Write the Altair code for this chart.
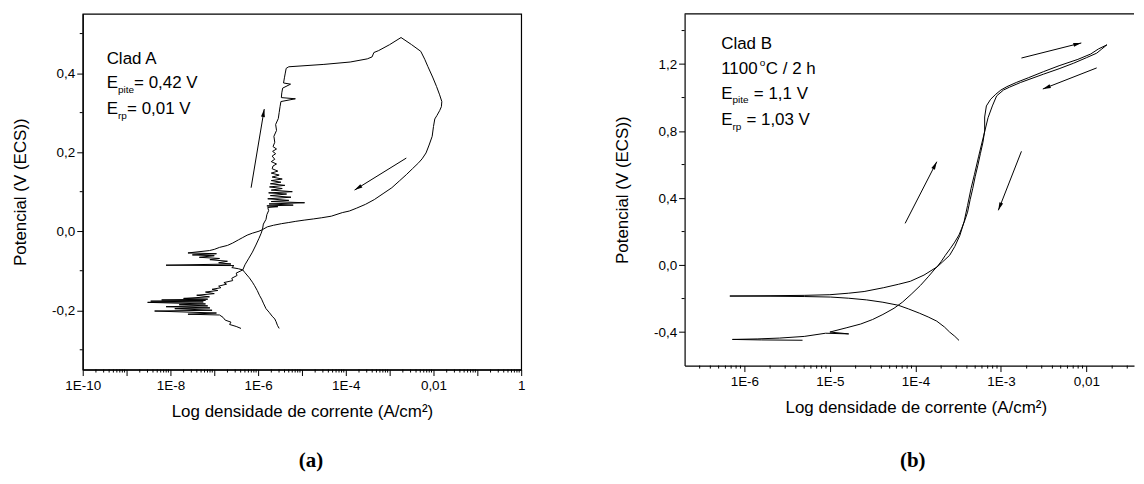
import math
import altair as alt
import pandas as pd

FONT = "Liberation Sans"
SERIF = "Liberation Serif"

# ---------------- Clad A (panel a): (log10 i, E) ----------------
A_FWD = [(-6.39, -0.246), (-6.50, -0.241), (-6.65, -0.236), (-6.62, -0.230), (-6.75, -0.225),
         (-6.80, -0.218), (-6.88, -0.212), (-7.60, -0.210), (-6.95, -0.207), (-8.36, -0.202),
         (-7.05, -0.200), (-7.90, -0.196), (-7.10, -0.194), (-8.10, -0.191), (-7.15, -0.189),
         (-7.80, -0.186), (-7.20, -0.184), (-8.52, -0.180), (-7.25, -0.179), (-8.45, -0.177),
         (-7.20, -0.175), (-8.20, -0.174), (-7.15, -0.172), (-7.70, -0.170), (-7.11, -0.166),
         (-7.40, -0.162), (-7.00, -0.158), (-7.20, -0.154), (-6.92, -0.150), (-7.05, -0.147),
         (-6.85, -0.143), (-6.90, -0.139), (-6.72, -0.134), (-6.78, -0.130), (-6.58, -0.125),
         (-6.60, -0.119), (-6.48, -0.112), (-6.50, -0.106), (-6.35, -0.098), (-6.30, -0.085),
         (-6.22, -0.070), (-6.13, -0.053), (-6.05, -0.035), (-5.98, -0.018), (-5.93, -0.005),
         (-5.90, 0.005), (-5.88, 0.018), (-5.82, 0.030), (-5.80, 0.042), (-5.76, 0.052),
         (-5.78, 0.060), (-5.55, 0.062), (-5.80, 0.064), (-5.20, 0.066), (-5.75, 0.069),
         (-4.94, 0.072), (-5.70, 0.075), (-5.30, 0.078), (-5.78, 0.082), (-5.25, 0.086),
         (-5.72, 0.090), (-5.35, 0.094), (-5.76, 0.097), (-5.22, 0.100), (-5.70, 0.104),
         (-5.45, 0.108), (-5.74, 0.112), (-5.39, 0.116), (-5.72, 0.120), (-5.48, 0.124),
         (-5.70, 0.128), (-5.45, 0.132), (-5.68, 0.137), (-5.52, 0.142), (-5.70, 0.147),
         (-5.55, 0.152), (-5.68, 0.158), (-5.66, 0.165), (-5.58, 0.170), (-5.70, 0.176),
         (-5.62, 0.182), (-5.68, 0.190), (-5.60, 0.196), (-5.67, 0.202), (-5.58, 0.208),
         (-5.66, 0.214), (-5.62, 0.225), (-5.64, 0.240), (-5.58, 0.255), (-5.60, 0.270),
         (-5.54, 0.285), (-5.52, 0.300), (-5.50, 0.315), (-5.48, 0.328), (-5.15, 0.335),
         (-5.47, 0.338), (-5.46, 0.350), (-5.44, 0.362), (-5.26, 0.372), (-5.42, 0.375),
         (-5.40, 0.388), (-5.38, 0.400), (-5.36, 0.412), (-5.30, 0.416), (-4.50, 0.422),
         (-3.90, 0.428), (-3.51, 0.436), (-3.40, 0.441), (-3.36, 0.452), (-3.25, 0.457),
         (-3.00, 0.472), (-2.74, 0.490)]

A_REV = [(-2.74, 0.490), (-2.50, 0.472), (-2.29, 0.455), (-2.20, 0.435), (-2.13, 0.417),
         (-2.02, 0.390), (-1.93, 0.366), (-1.86, 0.345), (-1.81, 0.328), (-1.82, 0.315),
         (-1.86, 0.305), (-1.92, 0.293), (-1.97, 0.284), (-2.00, 0.265), (-2.03, 0.240),
         (-2.10, 0.218), (-2.17, 0.198), (-2.26, 0.183), (-2.34, 0.173), (-2.48, 0.158),
         (-2.62, 0.143), (-2.78, 0.127), (-2.95, 0.110), (-3.15, 0.095), (-3.35, 0.080),
         (-3.55, 0.068), (-3.76, 0.058), (-3.92, 0.051), (-4.08, 0.047), (-4.33, 0.038),
         (-4.55, 0.034), (-4.74, 0.031), (-4.95, 0.028), (-5.14, 0.025), (-5.30, 0.022),
         (-5.47, 0.019), (-5.65, 0.015), (-5.79, 0.011), (-5.90, 0.004), (-5.98, 0.000),
         (-6.13, -0.005), (-6.25, -0.010), (-6.35, -0.016), (-6.45, -0.022), (-6.58, -0.030),
         (-6.70, -0.036), (-6.88, -0.041), (-7.00, -0.046), (-7.11, -0.049), (-7.60, -0.055),
         (-6.95, -0.057), (-7.50, -0.060), (-7.00, -0.062), (-7.34, -0.066), (-6.88, -0.069),
         (-7.10, -0.072), (-6.70, -0.076), (-6.90, -0.080), (-6.62, -0.083), (-8.10, -0.086),
         (-6.55, -0.087), (-6.60, -0.092), (-6.45, -0.095), (-6.35, -0.098), (-6.30, -0.105),
         (-6.20, -0.118), (-6.13, -0.129), (-6.08, -0.138), (-6.02, -0.150), (-5.97, -0.162),
         (-5.92, -0.172), (-5.88, -0.182), (-5.82, -0.196), (-5.75, -0.205), (-5.68, -0.215),
         (-5.62, -0.222), (-5.59, -0.229), (-5.56, -0.238), (-5.52, -0.246)]

# arrows: (start log i, start E, tip log i, tip E)
A_ARROWS = [(-6.16, 0.110, -5.86, 0.309), (-2.62, 0.185, -3.80, 0.104)]

# ---------------- Clad B (panel b) ----------------
B_FWD = [(-3.49, -0.450), (-3.54, -0.425), (-3.60, -0.400), (-3.66, -0.370), (-3.75, -0.335),
         (-3.85, -0.310), (-3.95, -0.288), (-4.08, -0.262), (-4.20, -0.240), (-4.38, -0.222),
         (-4.57, -0.208), (-4.78, -0.198), (-4.99, -0.191), (-5.30, -0.188), (-5.70, -0.186),
         (-6.17, -0.185), (-5.70, -0.183), (-5.30, -0.181), (-5.00, -0.177), (-4.78, -0.168),
         (-4.60, -0.158), (-4.37, -0.135), (-4.20, -0.115), (-4.06, -0.097), (-3.90, -0.060),
         (-3.75, -0.012), (-3.70, 0.020), (-3.65, 0.058), (-3.59, 0.100), (-3.54, 0.137),
         (-3.49, 0.180), (-3.46, 0.217), (-3.42, 0.270), (-3.39, 0.316), (-3.36, 0.390),
         (-3.33, 0.456), (-3.30, 0.530), (-3.27, 0.595), (-3.24, 0.665), (-3.21, 0.734),
         (-3.19, 0.800), (-3.19, 0.884), (-3.17, 0.950), (-3.12, 0.990), (-3.06, 1.020),
         (-3.00, 1.045), (-2.93, 1.065), (-2.82, 1.090), (-2.68, 1.118), (-2.50, 1.155),
         (-2.32, 1.190), (-2.10, 1.228), (-1.95, 1.260), (-1.86, 1.290), (-1.76, 1.315)]

B_REV = [(-1.76, 1.315), (-1.82, 1.290), (-1.88, 1.265), (-2.00, 1.238), (-2.15, 1.205),
         (-2.32, 1.172), (-2.50, 1.140), (-2.77, 1.090), (-2.90, 1.062), (-2.97, 1.045),
         (-3.05, 1.010), (-3.10, 0.950), (-3.15, 0.880), (-3.20, 0.776), (-3.26, 0.650),
         (-3.31, 0.540), (-3.35, 0.456), (-3.39, 0.356), (-3.43, 0.260), (-3.48, 0.177),
         (-3.54, 0.110), (-3.60, 0.058), (-3.68, 0.020), (-3.77, -0.022), (-3.85, -0.070),
         (-3.94, -0.121), (-4.05, -0.175), (-4.15, -0.221), (-4.25, -0.258), (-4.38, -0.295),
         (-4.50, -0.325), (-4.64, -0.352), (-4.81, -0.375), (-5.00, -0.400), (-4.78, -0.411),
         (-5.05, -0.407), (-5.30, -0.426), (-5.59, -0.436), (-5.85, -0.441), (-6.14, -0.444),
         (-5.80, -0.447), (-5.32, -0.449)]

B_ARROWS = [(-4.12, 0.249, -3.75, 0.617), (-2.76, 1.236, -2.06, 1.326),
            (-1.88, 1.177, -2.51, 1.051), (-2.76, 0.679, -3.03, 0.327)]

# ---------------- ticks and texts ----------------
A_X_DECADES = list(range(-10, 1))
A_X_LABEL_KEYS = [-10, -8, -6, -4, -2, 0]
A_X_LABELS = ["1E-10", "1E-8", "1E-6", "1E-4", "0,01", "1"]
A_Y_MAJOR = [-0.2, 0.0, 0.2, 0.4]
A_Y_LABELS = ["-0,2", "0,0", "0,2", "0,4"]
A_Y_MINOR = [-0.3, -0.1, 0.1, 0.3, 0.5]

B_X_DECADES = [-6, -5, -4, -3, -2]
B_X_LABELS = ["1E-6", "1E-5", "1E-4", "1E-3", "0,01"]
B_Y_MAJOR = [-0.4, 0.0, 0.4, 0.8, 1.2]
B_Y_LABELS = ["-0,4", "0,0", "0,4", "0,8", "1,2"]
B_Y_MINOR = [-0.2, 0.2, 0.6, 1.0, 1.4]

X_TITLE = "Log densidade de corrente (A/cm²)"
Y_TITLE = "Potencial (V (ECS))"

# geometry
A_W, A_H = 440, 357
A_XDOM, A_YDOM = [1e-10, 1.0], [-0.35, 0.55]
B_W, B_H = 451, 353
B_XDOM, B_YDOM = [2e-7, 0.036], [-0.6, 1.5]

HEAD = "M0,0L-0.5,2L0.5,2Z"


def lookup_expr(keys, labels, key_expr, tol):
    expr = "''"
    for k, lab in reversed(list(zip(keys, labels))):
        expr = f"abs({key_expr} - ({k})) < {tol} ? '{lab}' : ({expr})"
    return expr


def curve_df(series):
    rows = []
    for name, pts in series.items():
        for k, (lg, e) in enumerate(pts):
            rows.append({"scan": name, "k": k, "i": 10.0 ** lg, "E": e})
    return pd.DataFrame(rows)


def arrow_df(arrows, xdom, ydom, W, H):
    ppd = W / (math.log10(xdom[1]) - math.log10(xdom[0]))
    ppv = H / (ydom[1] - ydom[0])
    rows = []
    for l1, e1, l2, e2 in arrows:
        ang = math.degrees(math.atan2((l2 - l1) * ppd, (e2 - e1) * ppv)) % 360
        rows.append({"i": 10.0 ** l1, "E": e1, "i2": 10.0 ** l2, "E2": e2, "ang": ang})
    return pd.DataFrame(rows)


def minor_x(decades_lo, decades_hi, xdom):
    vals = []
    for d in range(decades_lo, decades_hi + 1):
        for m in range(2, 10):
            v = m * 10.0 ** d
            if xdom[0] * 1.001 < v < xdom[1] * 0.999:
                vals.append(v)
    return vals


def txt(s, x, y, size=17, font=FONT, weight="normal", align="left"):
    return alt.Chart(pd.DataFrame({"t": [s]})).mark_text(
        align=align, baseline="middle", font=font, fontSize=size,
        fontWeight=weight, color="black"
    ).encode(text="t:N", x=alt.value(x), y=alt.value(y))


def panel(fwd, rev, arrows, xdom, ydom, W, H, x_dec, x_keys, x_labels,
          y_major, y_labels, y_minor, texts, view, title_x=None):
    xscale = alt.Scale(type="log", domain=xdom, nice=False)
    yscale = alt.Scale(domain=ydom, nice=False, zero=False)
    xaxis_kw = dict(
        values=[10.0 ** k for k in x_dec],
        labelExpr=lookup_expr(x_keys, x_labels, "log(datum.value)/LN10", 0.01),
        tickSize=6, labelPadding=3, labelFlush=False, labelOverlap=False,
        grid=False, title=X_TITLE, titlePadding=12,
    )
    if title_x is not None:
        xaxis_kw["titleX"] = title_x
    xaxis = alt.Axis(**xaxis_kw)
    yaxis = alt.Axis(
        values=y_major,
        labelExpr=lookup_expr(y_major, y_labels, "datum.value", 1e-6),
        tickSize=6, labelPadding=2, labelFlush=False, labelOverlap=False,
        grid=False, title=Y_TITLE, titlePadding=22,
    )

    def X(f):
        return alt.X(f"{f}:Q", scale=xscale, axis=xaxis)

    def Y(f):
        return alt.Y(f"{f}:Q", scale=yscale, axis=yaxis)

    curves = alt.Chart(curve_df({"fwd": fwd, "rev": rev})).mark_line(
        color="black", strokeWidth=1
    ).encode(x=X("i"), y=Y("E"), detail="scan:N", order="k:Q")

    adf = arrow_df(arrows, xdom, ydom, W, H)
    shafts = alt.Chart(adf).mark_rule(color="black", strokeWidth=1).encode(
        x=X("i"), y=Y("E"), x2="i2:Q", y2="E2:Q")
    heads = alt.Chart(adf).mark_point(
        shape=HEAD, size=64, filled=True, color="black", opacity=1, strokeWidth=0
    ).encode(x=X("i2"), y=Y("E2"), angle=alt.Angle("ang:Q", scale=None))

    mx = alt.Chart(pd.DataFrame({"v": minor_x(x_dec[0] - 1, x_dec[-1], xdom)})).mark_rule(
        color="black", strokeWidth=1
    ).encode(x=X("v"), y=alt.value(H), y2=alt.value(H + 3))
    my = alt.Chart(pd.DataFrame({"v": y_minor})).mark_rule(
        color="black", strokeWidth=1
    ).encode(y=Y("v"), x=alt.value(0), x2=alt.value(-3))

    layers = [curves, shafts, heads, mx, my] + texts
    return alt.layer(*layers).properties(width=W, height=H, view=view)


# annotation texts (positions relative to each plot area)
A_TEXTS = [
    txt("Clad A", 24, 45),
    txt("E", 24, 69), txt("pite", 35.3, 76, size=10), txt("= 0,42 V", 51.5, 69),
    txt("E", 24, 96), txt("rp", 35.3, 103, size=10), txt("= 0,01 V", 44.5, 96),
    txt("(a)", 229, 449, size=21, font=SERIF, weight="bold", align="center"),
]
B_TEXTS = [
    txt("Clad B", 36.7, 30),
    txt("1100", 36.7, 55), txt("o", 75.5, 49, size=10), txt("C / 2 h", 81.5, 55),
    txt("E", 36.7, 80), txt("pite", 48, 87, size=10), txt("= 1,1 V", 69.5, 80),
    txt("E", 36.7, 107), txt("rp", 48, 114, size=10), txt("= 1,03 V", 62, 107),
    txt("(b)", 229, 449, size=21, font=SERIF, weight="bold", align="center"),
    alt.Chart(pd.DataFrame({"a": [0]})).mark_rule(color="black", strokeWidth=1.2).encode(
        x=alt.value(0), x2=alt.value(B_W), y=alt.value(0)),
]

left = panel(A_FWD, A_REV, A_ARROWS, A_XDOM, A_YDOM, A_W, A_H, A_X_DECADES,
             A_X_LABEL_KEYS, A_X_LABELS, A_Y_MAJOR, A_Y_LABELS, A_Y_MINOR, A_TEXTS,
             alt.ViewBackground(stroke="black", strokeWidth=1.2, fill="white"))
right = panel(B_FWD, B_REV, B_ARROWS, B_XDOM, B_YDOM, B_W, B_H, B_X_DECADES,
              B_X_DECADES, B_X_LABELS, B_Y_MAJOR, B_Y_LABELS, B_Y_MINOR, B_TEXTS,
              alt.ViewBackground(stroke="transparent", fill="white"), title_x=232)

chart = alt.hconcat(left, right, spacing=87).properties(
    padding={"left": 3, "top": 3, "right": 0, "bottom": 0},
    background="white",
).configure_axis(
    labelFont=FONT, labelFontSize=13.5, labelColor="black",
    titleFont=FONT, titleFontSize=17, titleFontWeight="normal", titleColor="black",
    domainColor="black", domainWidth=1.2, tickColor="black", tickWidth=1,
)

chart.save("out.html", embed_options={"renderer": "svg", "actions": False})
